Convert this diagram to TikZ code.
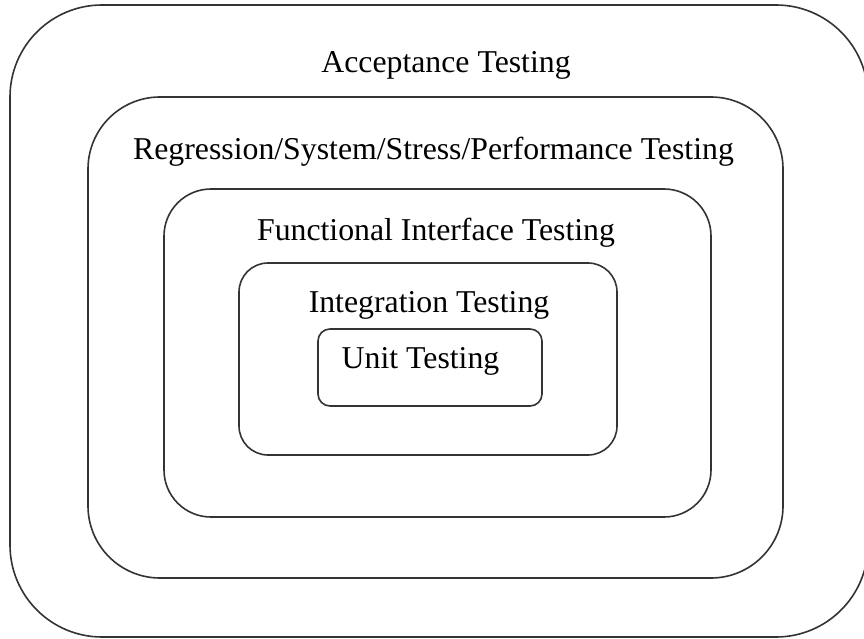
\documentclass[tikz,border=0pt]{standalone}
\usepackage{fontspec}
\setmainfont{Liberation Serif}
\tikzset{
  layer/.style={draw=black!80, line width=1.6bp},
  lbl/.style={anchor=base, inner sep=0pt, font=\fontsize{31.9pt}{37pt}\selectfont, text=black}
}
\begin{document}
\begin{tikzpicture}[x=1bp,y=-1bp]
\useasboundingbox (0,0) rectangle (864,639);
\clip (0,0) rectangle (864,639);
\fill[white] (0,0) rectangle (864,639);
\draw[layer, rounded corners=92bp] (10,5) rectangle (868,637);
\draw[layer, rounded corners=72bp] (88,97) rectangle (783,578);
\draw[layer, rounded corners=47bp] (164,189) rectangle (711,517);
\draw[layer, rounded corners=29bp] (239,263) rectangle (617,455);
\draw[layer, rounded corners=12bp] (318,329) rectangle (542,406);
\node[lbl] (acc) at (446,73) {Acceptance Testing};
\node[lbl] (reg) at (433.5,160) {Regression/System/Stress/Performance Testing};
\node[lbl] (fun) at (436,241) {Functional Interface Testing};
\node[lbl] (int) at (429,312) {Integration Testing};
\node[lbl] (unit) at (420.5,368) {Unit Testing};
\end{tikzpicture}
\end{document}
